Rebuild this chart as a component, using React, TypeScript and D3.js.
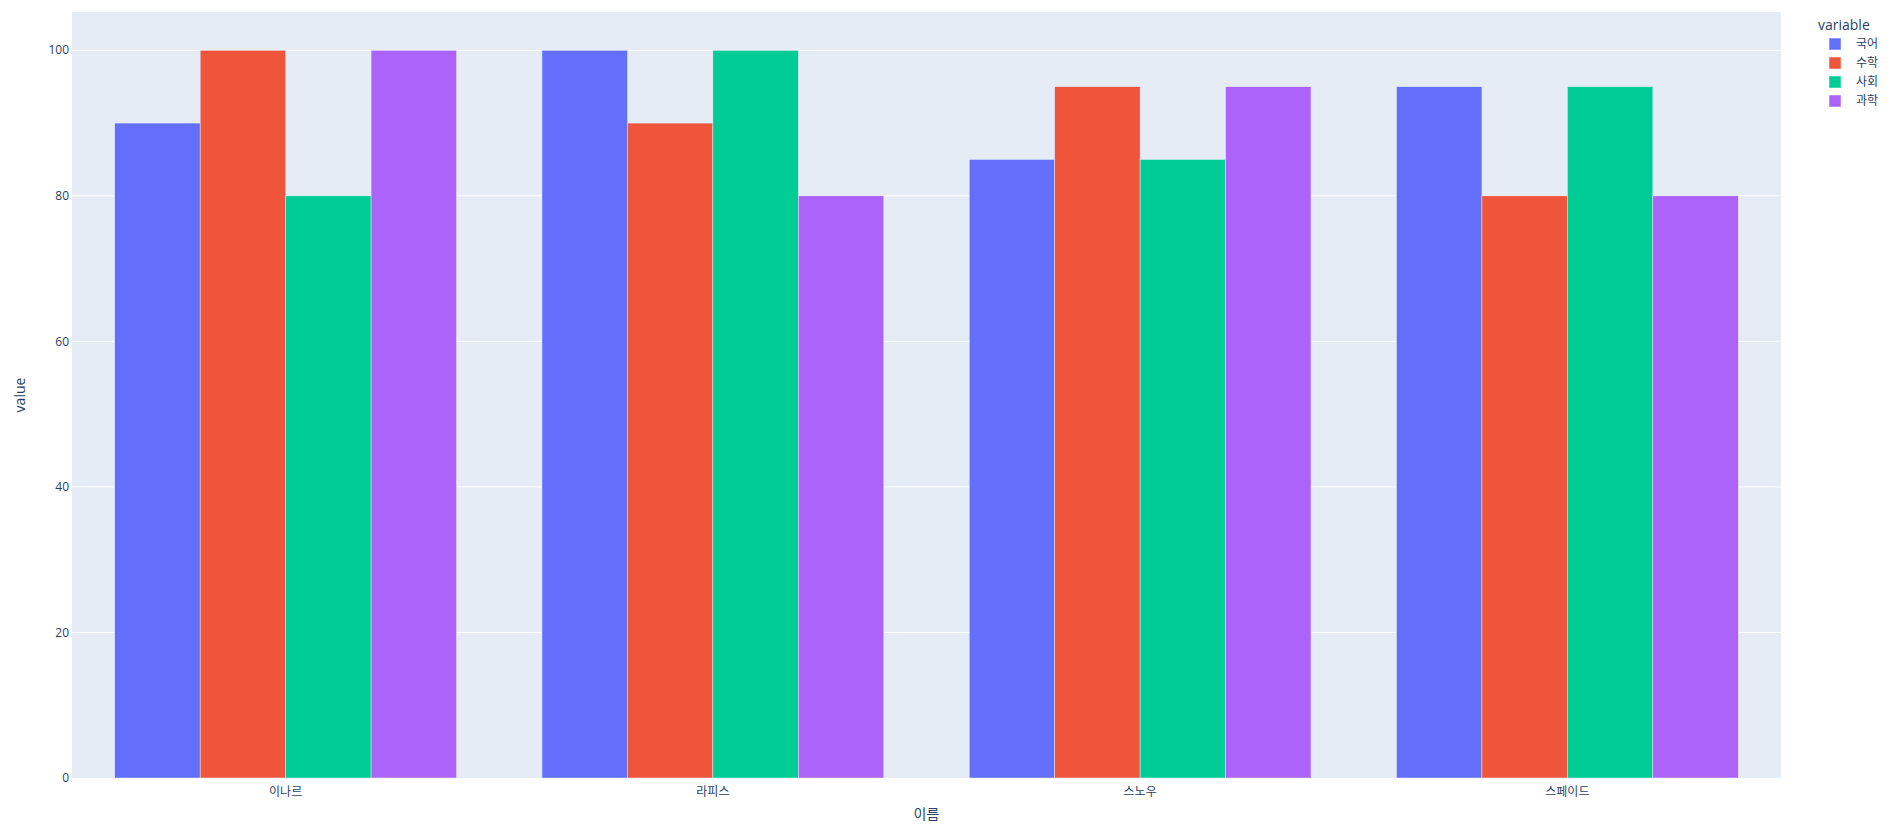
import React from "react";
import * as d3 from "d3";

const categories = ["이나르", "라피스", "스노우", "스페이드"];
const seriesNames = ["국어", "수학", "사회", "과학"];
const korean = [90, 100, 85, 95];
const math = [100, 90, 95, 80];
const social = [80, 100, 85, 95];
const science = [100, 80, 95, 80];
const seriesValues = [korean, math, social, science];
const colors = ["#636efa", "#EF553B", "#00cc96", "#ab63fa"];
const yTicks = [0, 20, 40, 60, 80, 100];

const W = 1896;
const H = 829;
const M = { left: 72, top: 12, right: 1781, bottom: 778 };
const FONT = "'Open Sans', 'Noto Sans CJK KR', sans-serif";
const TXT = "#2a3f5f";

export default function App() {
  const x = d3.scaleBand<string>().domain(categories).range([M.left, M.right]).paddingInner(0.2).paddingOuter(0.1);
  const xs = d3.scaleBand<string>().domain(seriesNames).range([0, x.bandwidth()]);
  const y = d3.scaleLinear().domain([0, 105.263]).range([M.bottom, M.top]);

  return (
    <svg width={W} height={H} style={{ position: "absolute", left: 0, top: 0, fontFamily: FONT }}>
      <rect x={0} y={0} width={W} height={H} fill="#fff" />
      <rect x={M.left} y={M.top} width={M.right - M.left} height={M.bottom - M.top} fill="#E5ECF6" />
      {yTicks.map((t) => (
        <g key={t}>
          {t > 0 && <line x1={M.left} x2={M.right} y1={y(t)} y2={y(t)} stroke="#fff" strokeWidth={1} />}
          <text x={M.left - 3} y={y(t)} dy="0.35em" textAnchor="end" fontSize={12} fill={TXT}>
            {t}
          </text>
        </g>
      ))}
      {seriesNames.map((s, si) =>
        categories.map((c, ci) => {
          const v = seriesValues[si][ci];
          const bx = (x(c) as number) + (xs(s) as number);
          return (
            <rect
              key={s + c}
              x={bx}
              y={y(v)}
              width={xs.bandwidth()}
              height={y(0) - y(v)}
              fill={colors[si]}
              stroke="#E5ECF6"
              strokeWidth={0.5}
            />
          );
        })
      )}
      {categories.map((c) => (
        <text key={c} x={(x(c) as number) + x.bandwidth() / 2} y={M.bottom + 18} textAnchor="middle" fontSize={12} fill={TXT}>
          {c}
        </text>
      ))}
      <text x={(M.left + M.right) / 2} y={819} textAnchor="middle" fontSize={14} fill={TXT}>
        이름
      </text>
      <text transform={`translate(20,${(M.top + M.bottom) / 2}) rotate(-90)`} textAnchor="middle" dy="0.35em" fontSize={14} fill={TXT}>
        value
      </text>
      <text x={1818} y={30} fontSize={14} fill={TXT}>
        variable
      </text>
      {seriesNames.map((s, i) => (
        <g key={s} transform={`translate(0,${44 + i * 19})`}>
          <rect x={1829} y={-6} width={12} height={12} fill={colors[i]} stroke="#ffffff" strokeOpacity={0.5} />
          <text x={1856} y={0} dy="0.35em" fontSize={12} fill={TXT}>
            {s}
          </text>
        </g>
      ))}
    </svg>
  );
}
